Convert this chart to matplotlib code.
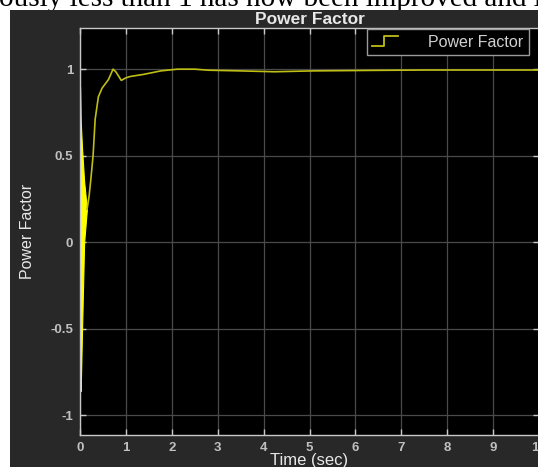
import matplotlib
matplotlib.use("Agg")
import matplotlib.pyplot as plt
from matplotlib.patches import Rectangle
from matplotlib.lines import Line2D
from matplotlib.legend_handler import HandlerBase

# ---- data ----
# fast-oscillation band at start (envelopes)
t_env = [0.0, 0.008, 0.015, 0.045, 0.09, 0.15]
upper_env = [0.9, 0.8, 0.7, 0.54, 0.35, 0.19]
lower_env = [0.2, -0.84, -0.86, -0.5, 0.0, 0.19]

# main power-factor trace
t = [0.15, 0.16, 0.2, 0.235, 0.285, 0.33, 0.40, 0.48, 0.62, 0.72, 0.78,
     0.9, 1.0, 1.1, 1.39, 1.76, 2.12, 2.5, 2.8, 3.5, 4.24, 5.05, 6.4, 7.5, 10.0]
pf = [0.19, 0.2, 0.27, 0.36, 0.5, 0.71, 0.84, 0.89, 0.94, 1.0, 0.985,
      0.935, 0.95, 0.958, 0.97, 0.99, 1.0, 1.0, 0.994, 0.99, 0.985, 0.99,
      0.993, 0.995, 0.995]

xticks = [0, 1, 2, 3, 4, 5, 6, 7, 8, 9, 10]
yticks = [-1, -0.5, 0, 0.5, 1]
ytick_labels = ["-1", "-0.5", "0", "0.5", "1"]

title = "Power Factor"
ylabel = "Power Factor"
xlabel = "Time (sec)"
legend_label = "Power Factor"
caption = "ously less than 1 has now been improved and is al"

W, H = 538, 467
fig = plt.figure(figsize=(W / 100, H / 100), dpi=100)
fig.patch.set_facecolor("white")

# caption text cut at the top
fig.text(-1 / W, 1 - 6 / H, caption, family="Liberation Serif", fontsize=21,
         color="black", va="baseline", ha="left", zorder=-2)

# dark scope background
fig.patches.append(Rectangle((10 / W, 0), 1 - 10 / W, 1 - 10 / H,
                             transform=fig.transFigure, facecolor="#282828",
                             edgecolor="none", zorder=-1))

left, right, top, bottom = 80, 539, 28, 435
ax = fig.add_axes([left / W, (H - bottom) / H, (right - left) / W, (bottom - top) / H])
ax.set_facecolor("black")

sans = "Liberation Sans"
line_col = "#bebe14"
ax.fill_between(t_env, lower_env, upper_env, color="#ffff00", linewidth=0.8,
                edgecolor="#ffff00")
ax.plot(t, pf, color=line_col, lw=1.2, label=legend_label)

ax.set_xlim(0, 10)
ax.set_ylim(-1.115, 1.238)
ax.set_xticks(xticks)
ax.set_yticks(yticks)
ax.set_yticklabels(ytick_labels)
ax.grid(True, color="#4a4a4a", lw=0.9)
ax.set_axisbelow(True)
ax.tick_params(direction="in", length=4, width=1, colors="#c8c8c8",
               labelcolor="#c0c0c0", top=True, right=True, labelsize=9.5, pad=5)
for lbl in ax.get_xticklabels() + ax.get_yticklabels():
    lbl.set_family(sans)
    lbl.set_fontweight("bold")
for s in ax.spines.values():
    s.set_color("#c8c8c8")
    s.set_linewidth(1)

ax.set_title(title, family=sans, fontweight="bold", fontsize=12.5,
             color="#e8e8e8", pad=3)
ax.set_xlabel(xlabel, family=sans, fontsize=12, color="#e8e8e8", labelpad=-1)
ax.set_ylabel(ylabel, family=sans, fontsize=11.5, color="#e8e8e8", labelpad=11)


class StepHandler(HandlerBase):
    def create_artists(self, legend, orig_handle, xdescent, ydescent,
                       width, height, fontsize, trans):
        xs = [-xdescent, -xdescent + 0.45 * width, -xdescent + 0.45 * width, -xdescent + width]
        ys = [-ydescent + 0.05 * height, -ydescent + 0.05 * height,
              -ydescent + 0.95 * height, -ydescent + 0.95 * height]
        return [Line2D(xs, ys, color=line_col, lw=1.3, transform=trans)]


handle = Line2D([], [], color=line_col)
leg = ax.legend([handle], [legend_label], handler_map={Line2D: StepHandler()},
                loc="upper right", bbox_to_anchor=(529 / W, 1 - 29 / H),
                bbox_transform=fig.transFigure, borderaxespad=0,
                prop={"family": sans, "size": 11.5}, frameon=True,
                fancybox=False, facecolor="black", edgecolor="#9a9a9a",
                framealpha=1, handlelength=1.6, handletextpad=1.9,
                borderpad=0.35)
for txt in leg.get_texts():
    txt.set_color("#d0d0d0")

fig.savefig("out.png", dpi=100)
